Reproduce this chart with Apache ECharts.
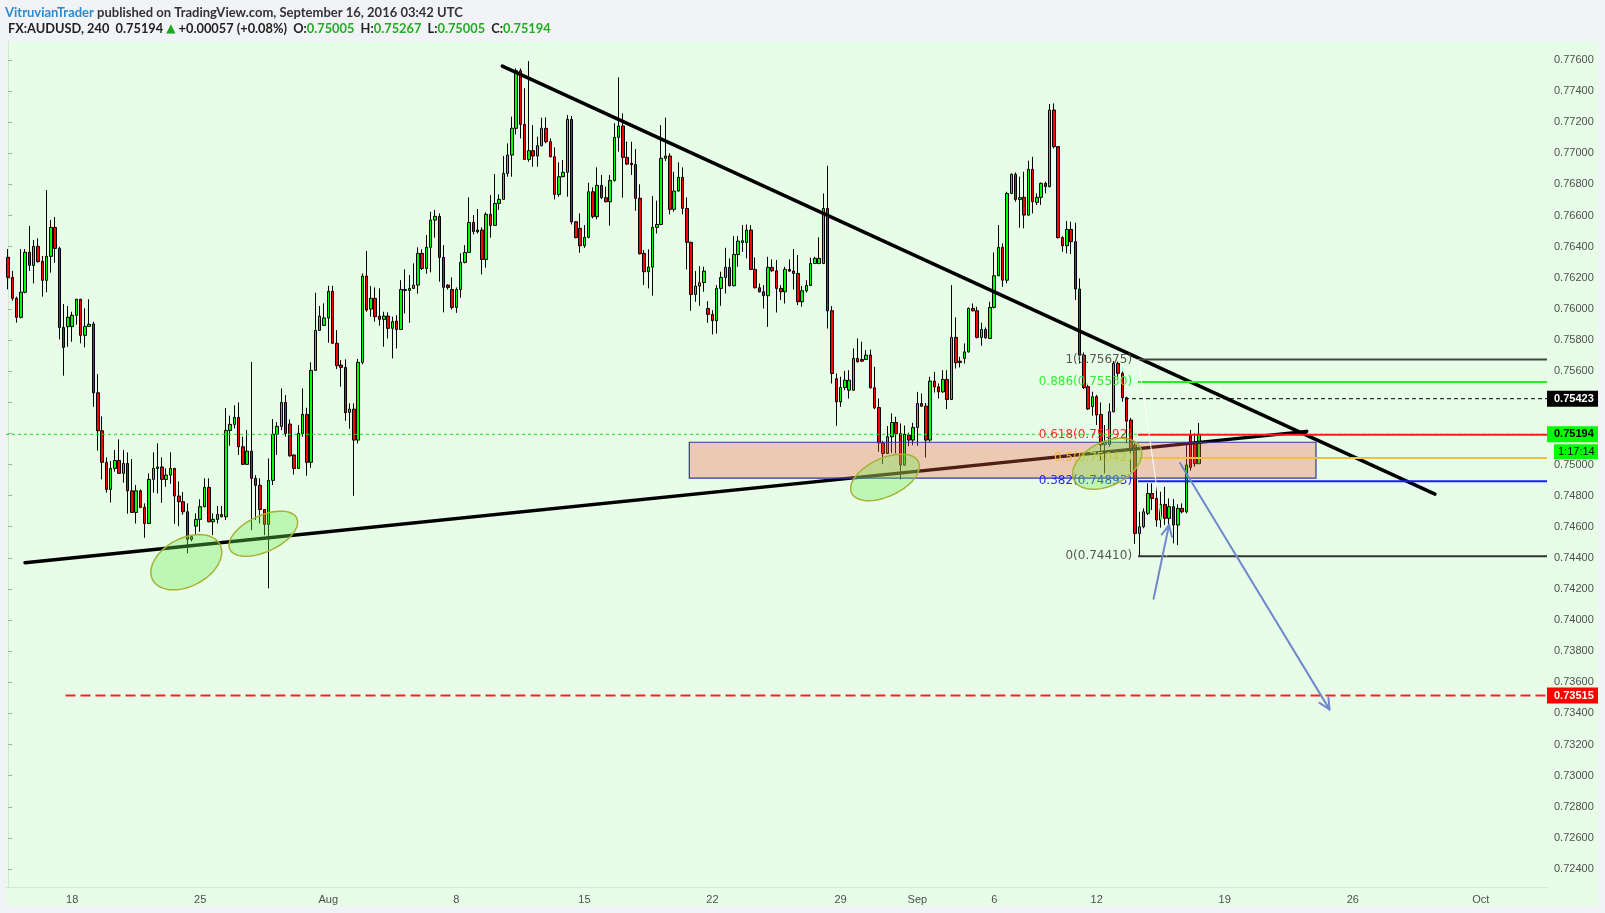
<!DOCTYPE html>
<html>
<head>
<meta charset="utf-8">
<title>FX:AUDUSD, 240</title>
<script src="https://cdn.jsdelivr.net/npm/echarts@6/dist/echarts.min.js"></script>
<style>
  html, body { margin: 0; padding: 0; background: #f1f3f6; }
  #pane { position: absolute; left: 6px; top: 41px; width: 1592px; height: 865px; background: #e8fde8; }
  #chart { position: absolute; left: 0; top: 0; width: 1605px; height: 913px; }
</style>
</head>
<body>
<div id="pane"></div>
<div id="chart"></div>
<script>
// 4h bars, each [open, close, low, high]
var candles = [
  [0.76332,0.76203,0.76126,0.76385],[0.76203,0.76068,0.76053,0.76244],[0.76068,0.75946,0.75912,0.76079],[0.75946,0.76107,0.75939,0.76385],[0.76107,0.76364,0.76100,0.76385],
  [0.76364,0.76280,0.76244,0.76533],[0.76280,0.76402,0.76164,0.76443],[0.76402,0.76304,0.76297,0.76454],[0.76306,0.76184,0.76079,0.76340],[0.76184,0.76338,0.76107,0.76764],
  [0.76338,0.76524,0.76233,0.76572],[0.76524,0.76389,0.76297,0.76591],[0.76389,0.75881,0.75804,0.76400],[0.75881,0.75753,0.75571,0.76032],[0.75886,0.75946,0.75757,0.76019],
  [0.75886,0.75959,0.75789,0.75982],[0.75959,0.76062,0.75899,0.76065],[0.76062,0.75830,0.75779,0.76065],[0.75830,0.75888,0.75753,0.76004],[0.75888,0.75901,0.75886,0.76062],
  [0.75903,0.75461,0.75371,0.75918],[0.75461,0.75217,0.75089,0.75581],[0.75217,0.75014,0.74904,0.75309],[0.75014,0.74840,0.74819,0.75046],[0.74840,0.74975,0.74756,0.75022],
  [0.74975,0.75026,0.74954,0.75093],[0.75026,0.74943,0.74939,0.75161],[0.74943,0.75007,0.74883,0.75093],[0.75007,0.74831,0.74684,0.75078],[0.74831,0.74692,0.74688,0.75035],
  [0.74692,0.74831,0.74621,0.74868],[0.74831,0.74724,0.74720,0.74840],[0.74724,0.74621,0.74529,0.74750],[0.74621,0.74904,0.74617,0.74943],[0.74904,0.74975,0.74819,0.75078],
  [0.74975,0.74984,0.74814,0.75136],[0.74984,0.74904,0.74754,0.75046],[0.74904,0.74932,0.74857,0.74975],[0.74932,0.74975,0.74876,0.75078],[0.74975,0.74797,0.74619,0.74978],
  [0.74797,0.74761,0.74604,0.74891],[0.74761,0.74696,0.74677,0.74823],[0.74696,0.74519,0.74429,0.74750],[0.74519,0.74536,0.74506,0.74546],[0.74604,0.74647,0.74546,0.74686],
  [0.74647,0.74729,0.74568,0.74776],[0.74729,0.74853,0.74724,0.74911],[0.74853,0.74632,0.74628,0.74911],[0.74632,0.74647,0.74546,0.74686],[0.74647,0.74679,0.74621,0.74733],
  [0.74679,0.74664,0.74660,0.74733],[0.74664,0.75219,0.74643,0.75363],[0.75219,0.75258,0.75121,0.75314],[0.75258,0.75303,0.75232,0.75380],[0.75303,0.75114,0.75061,0.75399],
  [0.75114,0.75001,0.74997,0.75179],[0.75001,0.75086,0.74997,0.75221],[0.75086,0.74911,0.74579,0.75659],[0.74911,0.74866,0.74643,0.74932],[0.74866,0.74711,0.74621,0.74911],
  [0.74711,0.74615,0.74546,0.74714],[0.74615,0.74898,0.74204,0.75039],[0.74898,0.75194,0.74868,0.75292],[0.75194,0.75245,0.75061,0.75273],[0.75245,0.75399,0.75221,0.75489],
  [0.75399,0.75200,0.75179,0.75446],[0.75260,0.75056,0.75050,0.75290],[0.75061,0.74975,0.74936,0.75064],[0.74975,0.75200,0.74971,0.75254],[0.75200,0.75322,0.75179,0.75489],
  [0.75322,0.75014,0.74928,0.75365],[0.75014,0.75605,0.74979,0.75657],[0.75605,0.75862,0.75601,0.76104],[0.75862,0.75954,0.75858,0.76019],[0.75894,0.75942,0.75890,0.76036],
  [0.75942,0.76113,0.75783,0.76149],[0.76113,0.75779,0.75774,0.76149],[0.75779,0.75635,0.75614,0.75864],[0.75639,0.75624,0.75500,0.75671],[0.75624,0.75333,0.75281,0.75676],
  [0.75335,0.75356,0.75230,0.75393],[0.75356,0.75157,0.74799,0.75393],[0.75157,0.75657,0.75136,0.75678],[0.75656,0.76211,0.75643,0.76228],[0.76211,0.75993,0.75982,0.76372],
  [0.75999,0.76068,0.75950,0.76147],[0.76068,0.75950,0.75918,0.76138],[0.75954,0.75933,0.75892,0.76132],[0.75933,0.75954,0.75757,0.75982],[0.75954,0.75875,0.75810,0.75978],
  [0.75875,0.75918,0.75682,0.75950],[0.75922,0.75868,0.75746,0.75960],[0.75868,0.76125,0.75864,0.76185],[0.76119,0.76125,0.75971,0.76254],[0.76119,0.76132,0.75911,0.76218],
  [0.76132,0.76153,0.76128,0.76293],[0.76153,0.76357,0.76098,0.76396],[0.76357,0.76260,0.76250,0.76383],[0.76260,0.76396,0.76226,0.76475],[0.76396,0.76571,0.76235,0.76625],
  [0.76571,0.76595,0.76458,0.76636],[0.76595,0.76331,0.76175,0.76614],[0.76331,0.76138,0.75978,0.76410],[0.76153,0.76138,0.76125,0.76158],[0.76125,0.76010,0.75997,0.76203],
  [0.76010,0.76125,0.75975,0.76138],[0.76125,0.76299,0.76072,0.76357],[0.76299,0.76363,0.76293,0.76410],[0.76363,0.76556,0.76359,0.76717],[0.76556,0.76496,0.76479,0.76603],
  [0.76507,0.76496,0.76485,0.76642],[0.76507,0.76318,0.76222,0.76524],[0.76318,0.76608,0.76265,0.76621],[0.76608,0.76537,0.76458,0.76732],[0.76537,0.76678,0.76533,0.76867],
  [0.76678,0.76704,0.76636,0.76736],[0.76704,0.76871,0.76700,0.76983],[0.76871,0.76989,0.76850,0.77064],[0.76989,0.77161,0.76850,0.77236],[0.77161,0.77531,0.77122,0.77546],
  [0.77531,0.77186,0.77096,0.77546],[0.77186,0.76961,0.76957,0.77418],[0.76961,0.77017,0.76946,0.77593],[0.77017,0.76983,0.76914,0.77182],[0.76983,0.77049,0.76914,0.77107],
  [0.77049,0.77161,0.77045,0.77229],[0.77161,0.77075,0.77064,0.77231],[0.77075,0.76978,0.76974,0.77096],[0.76978,0.76736,0.76704,0.77038],[0.76736,0.76850,0.76721,0.76942],
  [0.76850,0.76878,0.76846,0.76957],[0.76878,0.77218,0.76721,0.77246],[0.77218,0.76560,0.76543,0.77240],[0.76560,0.76458,0.76454,0.76564],[0.76518,0.76406,0.76361,0.76614],
  [0.76406,0.76460,0.76393,0.76539],[0.76460,0.76753,0.76454,0.76811],[0.76753,0.76593,0.76582,0.76781],[0.76593,0.76794,0.76576,0.76910],[0.76794,0.76715,0.76706,0.76861],
  [0.76715,0.76689,0.76685,0.76786],[0.76689,0.76826,0.76535,0.76861],[0.76826,0.77103,0.76818,0.77193],[0.77103,0.77176,0.77011,0.77488],[0.77176,0.76974,0.76715,0.77257],
  [0.76974,0.76931,0.76925,0.77075],[0.76936,0.76927,0.76861,0.77075],[0.76929,0.76711,0.76631,0.77028],[0.76711,0.76355,0.76350,0.76801],[0.76357,0.76239,0.76153,0.76378],
  [0.76239,0.76269,0.76132,0.76383],[0.76269,0.76524,0.76085,0.76726],[0.76524,0.76543,0.76485,0.76696],[0.76543,0.76968,0.76539,0.77182],[0.76968,0.76983,0.76951,0.77229],
  [0.76983,0.76640,0.76608,0.77000],[0.76640,0.76758,0.76625,0.76882],[0.76758,0.76846,0.76753,0.76942],[0.76846,0.76646,0.76608,0.76910],[0.76646,0.76428,0.76254,0.76717],
  [0.76428,0.76093,0.75988,0.76432],[0.76093,0.76147,0.76046,0.76243],[0.76147,0.76168,0.76020,0.76275],[0.76170,0.76243,0.76110,0.76271],[0.76003,0.75965,0.75911,0.76050],
  [0.75965,0.75924,0.75836,0.75992],[0.75924,0.76132,0.75842,0.76153],[0.76132,0.76202,0.76020,0.76239],[0.76202,0.76267,0.76100,0.76393],[0.76267,0.76149,0.76145,0.76325],
  [0.76149,0.76350,0.76145,0.76468],[0.76350,0.76436,0.76271,0.76468],[0.76427,0.76438,0.76367,0.76539],[0.76427,0.76507,0.76325,0.76543],[0.76507,0.76254,0.76250,0.76539],
  [0.76254,0.76136,0.76132,0.76331],[0.76136,0.76110,0.76106,0.76164],[0.76110,0.76085,0.76003,0.76153],[0.76085,0.76267,0.75885,0.76335],[0.76267,0.76245,0.76239,0.76318],
  [0.76245,0.76132,0.75977,0.76314],[0.76132,0.76110,0.76057,0.76153],[0.76110,0.76254,0.76035,0.76271],[0.76254,0.76243,0.76239,0.76318],[0.76243,0.76228,0.76125,0.76385],
  [0.76228,0.76046,0.76025,0.76346],[0.76046,0.76117,0.76014,0.76147],[0.76117,0.76151,0.76104,0.76185],[0.76151,0.76292,0.76147,0.76329],[0.76292,0.76325,0.76288,0.76335],
  [0.76292,0.76325,0.76288,0.76460],[0.76292,0.76646,0.76288,0.76742],[0.76646,0.75988,0.75874,0.76920],[0.75988,0.75585,0.75521,0.76018],[0.75551,0.75403,0.75249,0.75585],
  [0.75403,0.75495,0.75371,0.75564],[0.75495,0.75542,0.75478,0.75602],[0.75478,0.75542,0.75424,0.75606],[0.75478,0.75682,0.75474,0.75746],[0.75682,0.75660,0.75656,0.75810],
  [0.75675,0.75664,0.75660,0.75789],[0.75675,0.75703,0.75671,0.75735],[0.75703,0.75493,0.75489,0.75739],[0.75493,0.75364,0.75356,0.75628],[0.75366,0.75139,0.75082,0.75424],
  [0.75139,0.75071,0.75002,0.75152],[0.75071,0.75178,0.75067,0.75247],[0.75178,0.75270,0.75075,0.75328],[0.75270,0.75199,0.75071,0.75307],[0.75199,0.74996,0.74904,0.75264],
  [0.74996,0.75195,0.74992,0.75251],[0.75189,0.75157,0.75118,0.75204],[0.75157,0.75238,0.75124,0.75268],[0.75238,0.75392,0.75120,0.75467],[0.75392,0.75375,0.75371,0.75457],
  [0.75375,0.75157,0.75045,0.75395],[0.75157,0.75536,0.75146,0.75564],[0.75536,0.75499,0.75463,0.75596],[0.75499,0.75467,0.75424,0.75521],[0.75467,0.75547,0.75461,0.75606],
  [0.75547,0.75418,0.75356,0.75606],[0.75418,0.75817,0.75414,0.76153],[0.75817,0.75654,0.75617,0.75945],[0.75664,0.75656,0.75624,0.75692],[0.75682,0.75724,0.75649,0.75778],
  [0.75724,0.76003,0.75720,0.76010],[0.76003,0.75988,0.75984,0.76035],[0.75988,0.75817,0.75810,0.76014],[0.75817,0.75868,0.75763,0.75911],[0.75868,0.75815,0.75808,0.75881],
  [0.75810,0.76010,0.75806,0.76046],[0.76010,0.76213,0.76003,0.76363],[0.76213,0.76395,0.76211,0.76539],[0.76395,0.76185,0.76142,0.76421],[0.76185,0.76742,0.76164,0.76753],
  [0.76742,0.76865,0.76738,0.76871],[0.76865,0.76704,0.76689,0.76877],[0.76704,0.76715,0.76522,0.76850],[0.76717,0.76603,0.76518,0.76882],[0.76603,0.76897,0.76599,0.76953],
  [0.76897,0.76689,0.76614,0.76978],[0.76685,0.76717,0.76668,0.76743],[0.76717,0.76807,0.76668,0.76813],[0.76807,0.76786,0.76743,0.76818],[0.76786,0.77278,0.76781,0.77317],
  [0.77278,0.77043,0.77032,0.77321],[0.77043,0.76458,0.76453,0.77045],[0.76458,0.76406,0.76368,0.76468],[0.76406,0.76511,0.76357,0.76565],[0.76511,0.76432,0.76353,0.76561],
  [0.76432,0.76128,0.76057,0.76554],[0.76128,0.75703,0.75650,0.76196],[0.75703,0.75494,0.75485,0.75720],[0.75500,0.75357,0.75350,0.75511],[0.75372,0.75436,0.75314,0.75468],
  [0.75436,0.75318,0.75254,0.75447],[0.75322,0.75125,0.75029,0.75399],[0.75129,0.75142,0.74943,0.75254],[0.75129,0.75339,0.75114,0.75393],[0.75339,0.75650,0.75335,0.75665],
  [0.75650,0.75586,0.75543,0.75661],[0.75586,0.75429,0.75404,0.75597],[0.75429,0.75279,0.75136,0.75436],[0.75286,0.75093,0.74950,0.75300],[0.75125,0.74557,0.74490,0.75140],
  [0.74557,0.74600,0.74410,0.74696],[0.74600,0.74696,0.74590,0.74718],[0.74686,0.74814,0.74675,0.74879],[0.74814,0.74782,0.74707,0.74879],[0.74782,0.74643,0.74600,0.74868],
  [0.74643,0.74744,0.74594,0.74825],[0.74744,0.74654,0.74611,0.74857],[0.74654,0.74729,0.74600,0.74782],[0.74729,0.74611,0.74493,0.74778],[0.74611,0.74718,0.74482,0.74744],
  [0.74718,0.74696,0.74686,0.74750],[0.74696,0.74997,0.74686,0.75125],[0.75190,0.74980,0.74960,0.75222],[0.75136,0.75005,0.74986,0.75200],[0.75005,0.75194,0.75005,0.75267]
];

// bar index of the first bar of a labelled day
var dayLabels = [[15,'18'],[45,'25'],[75,'Aug'],[105,'8'],[135,'15'],[165,'22'],[195,'29'],
  [213,'Sep'],[231,'6'],[255,'12'],[285,'19'],[315,'26'],[345,'Oct']];
var slotCount = 361;

var priceTicks = [0.776,0.774,0.772,0.770,0.768,0.766,0.764,0.762,0.760,0.758,0.756,0.754,0.752,
  0.750,0.748,0.746,0.744,0.742,0.740,0.738,0.736,0.734,0.732,0.730,0.728,0.726,0.724];
var yMin = 0.722844, yMax = 0.777221;

// drawings, in [bar index, price]
var trendLines = [[115.77,0.77561,334.26,0.74810],[3.95,0.74369,304.21,0.75213]];
var zoneBox = [159.57,0.75143,306.38,0.74913];
// center, end of first axis, end of second axis
var ellipses = [
  [41.74,0.74372,49.61,0.74486,44.39,0.74236],
  [59.78,0.74555,67.62,0.74655,61.56,0.74450],
  [205.42,0.74917,213.26,0.75017,207.30,0.74806],
  [257.47,0.75005,265.32,0.75105,259.44,0.74875]
];
var fibStart = 264.7;
var fibLevels = [[1,0.75675],[0.886,0.75530],[0.618,0.75192],[0.5,0.75042],[0.382,0.74893],[0,0.74410]];
var fibSwing = [264.75,0.75675,271.41,0.74410];
var rays = [[261.64,0.75423],[13.44,0.73515]];
var arrows = [[268.34,0.74137,271.95,0.74611],[274.53,0.75010,309.55,0.73426]];
var lastPrice = 0.75194;
var tagPrices = [0.75423, lastPrice, 0.73515];
var countdown = '1:17:14';

var author = 'VitruvianTrader';
var published = 'published on TradingView.com, September 16, 2016 03:42 UTC';
var symbol = 'FX:AUDUSD, 240';
var quote = {last:'0.75194', chg:'+0.00057 (+0.08%)', o:'0.75005', h:'0.75267', l:'0.75005', c:'0.75194'};

// styles
var fibColors = ['#444444','#22ee22','#ff1a1a','#f2c03c','#1a1aff','#333333'];
var fibTextColors = ['#555555','#33ee33','#ff2a2a','#f0b830','#2424ff','#555555'];
var rayStyles = [{stroke:'#000', lineWidth:1, lineDash:[4,3]}, {stroke:'#ff2020', lineWidth:2, lineDash:[10,5]}];
var tagStyles = [{bg:'#000000', fg:'#ffffff'}, {bg:'#00ff00', fg:'#000000'}, {bg:'#ff0000', fg:'#ffffff'}];
var xMax = slotCount - 0.5;

var slots = [];
for (var s = 0; s < slotCount; s++) slots.push(String(s));
var labelAt = {};
dayLabels.forEach(function (d) { labelAt[d[0]] = d[1]; });

var chart = echarts.init(document.getElementById('chart'));

function segment(a, b, style) {
  return {type: 'line', shape: {x1: a[0], y1: a[1], x2: b[0], y2: b[1]}, style: style};
}

chart.setOption({
  animation: false,
  backgroundColor: 'transparent',
  title: [{
    left: 5, top: 6, padding: 0,
    text: '{user|' + author + '}{pub| ' + published + '}',
    textStyle: {rich: {
      user: {color: '#2a8bd0', fontSize: 13, fontFamily: 'Lato', fontWeight: 'bold'},
      pub: {color: '#333333', fontSize: 13, fontFamily: 'Lato'}
    }}
  }, {
    left: 8, top: 22, padding: 0,
    text: '{k|' + symbol + '}{n|  ' + quote.last + ' }{up|▲}{n| ' + quote.chg + '  }{k|O:}{v|' + quote.o +
      '}{k|  H:}{v|' + quote.h + '}{k|  L:}{v|' + quote.l + '}{k|  C:}{v|' + quote.c + '}',
    textStyle: {rich: {
      k: {color: '#222222', fontSize: 12.8, fontFamily: 'Lato', fontWeight: 'bold'},
      n: {color: '#222222', fontSize: 12.8, fontFamily: 'Lato'},
      up: {color: '#1fa51f', fontSize: 12, fontFamily: 'DejaVu Sans'},
      v: {color: '#1fae1f', fontSize: 12.8, fontFamily: 'Lato'}
    }}
  }],
  grid: {left: 6, right: 58, top: 41, bottom: 26},
  xAxis: [{
    type: 'category', data: slots, boundaryGap: true,
    axisLine: {show: true, lineStyle: {color: '#d6e4d6'}},
    axisTick: {show: false},
    axisLabel: {
      interval: function (i) { return labelAt[i] !== undefined; },
      formatter: function (v, i) { return labelAt[i]; },
      color: '#4e4e4e', fontSize: 11, fontFamily: '"Liberation Sans", Arial', margin: 7
    },
    splitLine: {show: false}
  }, {
    type: 'value', min: -0.5, max: xMax, show: false
  }],
  yAxis: {
    type: 'value', position: 'right', min: yMin, max: yMax,
    splitLine: {show: false},
    axisLine: {show: true, lineStyle: {color: '#d6e4d6'}},
    axisTick: {show: true, customValues: priceTicks, length: 4, lineStyle: {color: '#a6ada6'}},
    axisLabel: {
      customValues: priceTicks,
      formatter: function (v) { return v.toFixed(5); },
      color: '#4e4e4e', fontSize: 11, fontFamily: '"Liberation Sans", Arial', margin: 7
    }
  },
  series: [{
    type: 'candlestick', name: 'AUDUSD', data: candles, barWidth: 3, z: 2,
    silent: true,
    itemStyle: {color: '#00ff00', color0: '#ff0000', borderColor: '#000', borderColor0: '#000',
      borderColorDoji: '#000', borderWidth: 1}
  }, {
    // last price line
    type: 'custom', xAxisIndex: 1, z: 3, silent: true, data: [[-0.5, lastPrice]],
    renderItem: function (params, api) {
      var p = api.value(1);
      return segment(api.coord([api.value(0), p]), api.coord([xMax, p]),
        {stroke: '#18e018', lineWidth: 1, lineDash: [3, 3]});
    }
  }, {
    // trend lines
    type: 'custom', xAxisIndex: 1, z: 3, silent: true, data: trendLines,
    renderItem: function (params, api) {
      return segment(api.coord([api.value(0), api.value(1)]), api.coord([api.value(2), api.value(3)]),
        {stroke: '#000', lineWidth: 3.5, lineCap: 'round'});
    }
  }, {
    // support zone
    type: 'custom', xAxisIndex: 1, z: 4, silent: true, data: [zoneBox],
    renderItem: function (params, api) {
      var a = api.coord([api.value(0), api.value(1)]);
      var b = api.coord([api.value(2), api.value(3)]);
      return {type: 'rect', shape: {x: a[0], y: a[1], width: b[0] - a[0], height: b[1] - a[1]},
        style: {fill: 'rgba(245,95,65,0.32)', stroke: '#2d3a9e', lineWidth: 1.2}};
    }
  }, {
    // fib retracement levels
    type: 'custom', xAxisIndex: 1, z: 5, silent: true, data: fibLevels,
    renderItem: function (params, api) {
      var i = params.dataIndex, ratio = api.value(0), price = api.value(1);
      var a = api.coord([fibStart, price]);
      var b = api.coord([xMax, price]);
      return {type: 'group', children: [
        segment(a, b, {stroke: fibColors[i], lineWidth: 2}),
        {type: 'text', x: a[0] - 6, y: a[1], style: {
          text: ratio + '(' + price.toFixed(5) + ')', fill: fibTextColors[i],
          font: '12px "DejaVu Sans"', align: 'right', verticalAlign: 'middle'}}
      ]};
    }
  }, {
    // fib swing line
    type: 'custom', xAxisIndex: 1, z: 5, silent: true, data: [fibSwing],
    renderItem: function (params, api) {
      return segment(api.coord([api.value(0), api.value(1)]), api.coord([api.value(2), api.value(3)]),
        {stroke: 'rgba(255,255,255,0.95)', lineWidth: 1});
    }
  }, {
    // highlighted touches
    type: 'custom', xAxisIndex: 1, z: 6, silent: true, data: ellipses,
    renderItem: function (params, api) {
      var c = api.coord([api.value(0), api.value(1)]);
      var a = api.coord([api.value(2), api.value(3)]);
      var b = api.coord([api.value(4), api.value(5)]);
      var pts = [];
      for (var k = 0; k < 72; k++) {
        var t = k / 72 * Math.PI * 2;
        pts.push([c[0] + Math.cos(t) * (a[0] - c[0]) + Math.sin(t) * (b[0] - c[0]),
                  c[1] + Math.cos(t) * (a[1] - c[1]) + Math.sin(t) * (b[1] - c[1])]);
      }
      return {type: 'polygon', shape: {points: pts},
        style: {fill: 'rgba(110,235,80,0.35)', stroke: '#a6b236', lineWidth: 1.5}};
    }
  }, {
    // horizontal rays
    type: 'custom', xAxisIndex: 1, z: 7, silent: true, data: rays,
    renderItem: function (params, api) {
      var p = api.value(1);
      return segment(api.coord([api.value(0), p]), api.coord([xMax, p]), rayStyles[params.dataIndex]);
    }
  }, {
    // arrows
    type: 'custom', xAxisIndex: 1, z: 7, silent: true, data: arrows,
    renderItem: function (params, api) {
      var a = api.coord([api.value(0), api.value(1)]);
      var b = api.coord([api.value(2), api.value(3)]);
      var ang = Math.atan2(b[1] - a[1], b[0] - a[0]);
      var len = 12, spread = 0.45;
      var st = {stroke: '#7189cb', lineWidth: 2, lineCap: 'round'};
      var h1 = [b[0] - len * Math.cos(ang - spread), b[1] - len * Math.sin(ang - spread)];
      var h2 = [b[0] - len * Math.cos(ang + spread), b[1] - len * Math.sin(ang + spread)];
      return {type: 'group', children: [segment(a, b, st), segment(b, h1, st), segment(b, h2, st)]};
    }
  }, {
    // price scale tags
    type: 'custom', xAxisIndex: 1, z: 9, silent: true, data: tagPrices.map(function (p) { return [xMax, p]; }),
    renderItem: function (params, api) {
      var i = params.dataIndex, p = api.value(1);
      var pt = api.coord([xMax, p]);
      var st = tagStyles[i];
      var kids = [
        {type: 'rect', shape: {x: pt[0], y: pt[1] - 8, width: 51, height: 16}, style: {fill: st.bg}},
        {type: 'text', x: pt[0] + 7, y: pt[1], style: {text: p.toFixed(5), fill: st.fg,
          font: 'bold 11px "Liberation Sans", Arial', verticalAlign: 'middle'}}
      ];
      if (p === lastPrice) {
        kids.push({type: 'rect', shape: {x: pt[0] + 7, y: pt[1] + 10, width: 44, height: 15}, style: {fill: st.bg}});
        kids.push({type: 'text', x: pt[0] + 11, y: pt[1] + 17.5, style: {text: countdown, fill: st.fg,
          font: '11px "Liberation Sans", Arial', verticalAlign: 'middle'}});
      }
      return {type: 'group', children: kids};
    }
  }]
});
</script>
</body>
</html>
